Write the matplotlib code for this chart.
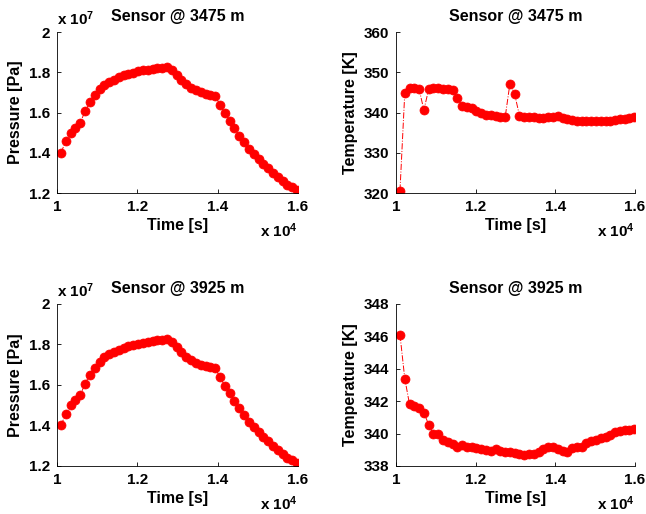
import matplotlib

matplotlib.use('Agg')
import matplotlib.pyplot as plt
from matplotlib.ticker import FuncFormatter

plt.rcParams['font.family'] = ['Liberation Sans', 'DejaVu Sans']
plt.rcParams['font.weight'] = 'bold'
plt.rcParams['mathtext.fontset'] = 'custom'
plt.rcParams['mathtext.rm'] = 'Liberation Sans:bold'
plt.rcParams['mathtext.default'] = 'rm'

# simulation output times [s]
time_s = [10100, 10220, 10340, 10460, 10580, 10700, 10820, 10940, 11060, 11180,
          11300, 11420, 11540, 11660, 11780, 11900, 12020, 12140, 12260, 12380,
          12500, 12620, 12740, 12860, 12980, 13100, 13220, 13340, 13460, 13580,
          13700, 13820, 13940, 14060, 14180, 14300, 14420, 14540, 14660, 14780,
          14900, 15020, 15140, 15260, 15380, 15500, 15620, 15740, 15860, 15980]

# pressure [1e7 Pa]
p_3475 = [1.400, 1.458, 1.500, 1.525, 1.549, 1.607, 1.651, 1.685, 1.715, 1.737,
          1.752, 1.764, 1.775, 1.784, 1.792, 1.798, 1.804, 1.809, 1.813, 1.817,
          1.820, 1.823, 1.825, 1.811, 1.786, 1.761, 1.740, 1.723, 1.710, 1.700,
          1.692, 1.687, 1.683, 1.637, 1.596, 1.560, 1.522, 1.484, 1.451, 1.419,
          1.393, 1.368, 1.345, 1.322, 1.299, 1.278, 1.258, 1.241, 1.228, 1.216]
p_3925 = [1.400, 1.458, 1.500, 1.525, 1.549, 1.607, 1.651, 1.685, 1.715, 1.737,
          1.752, 1.764, 1.775, 1.784, 1.792, 1.798, 1.804, 1.809, 1.813, 1.817,
          1.820, 1.823, 1.825, 1.811, 1.786, 1.761, 1.740, 1.723, 1.710, 1.700,
          1.692, 1.687, 1.683, 1.637, 1.596, 1.560, 1.522, 1.484, 1.451, 1.419,
          1.393, 1.368, 1.345, 1.322, 1.299, 1.278, 1.258, 1.241, 1.228, 1.216]

# temperature [K]
t_3475 = [320.6, 344.8, 346.2, 346.0, 345.8, 340.6, 345.8, 346.0, 346.0, 345.9,
          345.8, 345.6, 343.5, 341.6, 341.4, 341.0, 340.4, 339.8, 339.5, 339.3,
          339.2, 339.0, 338.8, 347.2, 344.5, 339.2, 339.0, 338.9, 338.8, 338.7,
          338.7, 338.8, 338.9, 339.2, 338.6, 338.3, 338.1, 338.0, 338.0, 337.9,
          337.9, 337.9, 337.9, 338.0, 338.0, 338.1, 338.3, 338.5, 338.7, 338.9]
t_3925 = [346.1, 343.4, 341.8, 341.7, 341.6, 341.3, 340.55, 339.96, 340.0, 339.6,
          339.5, 339.36, 339.17, 339.28, 339.2, 339.17, 339.13, 339.07, 338.99, 338.9,
          339.03, 338.9, 338.88, 338.85, 338.78, 338.72, 338.70, 338.72, 338.75, 338.88,
          339.05, 339.15, 339.19, 339.05, 338.93, 338.88, 339.08, 339.15, 339.19, 339.40,
          339.52, 339.58, 339.70, 339.82, 339.92, 340.12, 340.18, 340.22, 340.24, 340.26]

FS = 11.5      # titles / axis labels
TICK_FS = 11


def draw_panel(ax, t, y, title, ylabel, ylim, yticks, yexp=None):
    ax.plot(t, y, color='red', linestyle='-.', linewidth=0.7,
            marker='o', markersize=6.5, markerfacecolor='red', markeredgecolor='red',
            markeredgewidth=0.5)
    ax.set_xlim(10000, 16000)
    ax.set_xticks([10000, 12000, 14000, 16000])
    ax.xaxis.set_major_formatter(FuncFormatter(lambda v, p: f'{v / 1e4:g}'))
    ax.set_ylim(*ylim)
    ax.set_yticks(yticks)
    ax.yaxis.set_major_formatter(FuncFormatter(lambda v, p: f'{v:g}'))
    if yexp:
        ax.text(0.0, 1.025, r'x 10$^{%d}$' % yexp, transform=ax.transAxes,
                ha='left', va='bottom', fontsize=TICK_FS)
    # x-axis exponent, placed a fixed distance below the axis
    ax.annotate(r'x 10$^{4}$', xy=(1.0, 0.0), xycoords='axes fraction',
                xytext=(0, -27), textcoords='offset points',
                ha='right', va='center', fontsize=TICK_FS)
    for s in ['top', 'right']:
        ax.spines[s].set_visible(False)
    for s in ['left', 'bottom']:
        ax.spines[s].set_linewidth(0.6)
    ax.tick_params(direction='in', length=3, width=0.6, labelsize=TICK_FS)
    ax.tick_params(axis='x', pad=5)
    ax.tick_params(axis='y', pad=5)
    ax.set_title(title, fontsize=FS, fontweight='bold', pad=8)
    ax.set_xlabel('Time [s]', fontsize=FS, fontweight='bold', labelpad=3)
    ax.set_ylabel(ylabel, fontsize=FS, fontweight='bold', labelpad=4)


fig = plt.figure(figsize=(6.46, 5.14), dpi=100)

ax1 = fig.add_axes([0.0882, 0.6245, 0.373, 0.3132])
ax2 = fig.add_axes([0.613, 0.6245, 0.370, 0.3132])
ax3 = fig.add_axes([0.0882, 0.0934, 0.373, 0.3152])
ax4 = fig.add_axes([0.613, 0.0934, 0.370, 0.3152])

draw_panel(ax1, time_s, p_3475, 'Sensor @ 3475 m', 'Pressure [Pa]',
           (1.2, 2.0), [1.2, 1.4, 1.6, 1.8, 2.0], yexp=7)
draw_panel(ax2, time_s, t_3475, 'Sensor @ 3475 m', 'Temperature [K]',
           (320, 360), [320, 330, 340, 350, 360])
draw_panel(ax3, time_s, p_3925, 'Sensor @ 3925 m', 'Pressure [Pa]',
           (1.2, 2.0), [1.2, 1.4, 1.6, 1.8, 2.0], yexp=7)
draw_panel(ax4, time_s, t_3925, 'Sensor @ 3925 m', 'Temperature [K]',
           (338, 348), [338, 340, 342, 344, 346, 348])

fig.savefig('out.png', dpi=100)
plt.close(fig)
